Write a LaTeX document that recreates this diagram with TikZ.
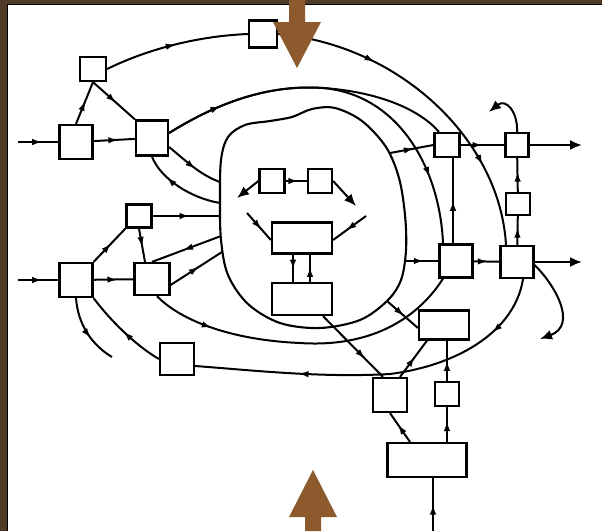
\documentclass[tikz,border=0pt]{standalone}
\usetikzlibrary{arrows.meta,decorations.markings}
\definecolor{framebrown}{RGB}{80,60,38}
\definecolor{arrowbrown}{RGB}{140,90,45}
\tikzset{
  box/.style={draw, line width=2.2pt, fill=white, inner sep=0pt},
  marr/.style={postaction={decorate,decoration={markings,mark=at position #1 with {\arrow{Latex[length=10pt,width=6.5pt]}}}}},
  rarr/.style={postaction={decorate,decoration={markings,mark=at position #1 with {\arrowreversed{Latex[length=10pt,width=6.5pt]}}}}},
  endarr/.style={-{Latex[length=12pt,width=10pt]}},
  conn/.style={line width=2pt},
}
\begin{document}
\begin{tikzpicture}[x=1pt,y=-1pt]
\useasboundingbox (0,0) rectangle (602,531);
\fill[white] (0,0) rectangle (602,531);
% frame
\fill[framebrown] (0,0) rectangle (7,531);
\fill[framebrown] (0,0) rectangle (602,3.5);
\fill[black] (6.5,3.5) rectangle (8,531);
\fill[black] (6.5,3.5) rectangle (602,5);

% blob
\draw[line width=2.1pt] plot[smooth cycle, tension=0.55] coordinates {
 (220,200) (221,160) (228,137) (245,125) (270,121) (292,117) (312,109) (335,108)
 (362,121) (386,147) (399,178) (405,215) (406,250) (401,280) (387,301) (360,320)
 (320,328) (280,323) (248,304) (228,275) (221,240)};

% nodes
\node[box, minimum width=28pt, minimum height=27pt] (T1) at (263,34) {};
\node[box, minimum width=26pt, minimum height=24pt] (A) at (93,69) {};
\node[box, minimum width=33pt, minimum height=34pt] (B) at (76,142) {};
\node[box, minimum width=32pt, minimum height=35pt] (C) at (152,138) {};
\node[box, minimum width=25pt, minimum height=23pt] (D) at (139,216) {};
\node[box, minimum width=33pt, minimum height=34pt] (E) at (76,280) {};
\node[box, minimum width=35pt, minimum height=32pt] (F) at (152,279) {};
\node[box, minimum width=34pt, minimum height=32pt] (G) at (177,359) {};
\node[box, minimum width=25pt, minimum height=24pt] (I1) at (272,181) {};
\node[box, minimum width=24pt, minimum height=24pt] (I2) at (320,181) {};
\node[box, minimum width=60pt, minimum height=31pt] (I3) at (302,238) {};
\node[box, minimum width=60pt, minimum height=32pt] (I4) at (302,299) {};
\node[box, minimum width=25pt, minimum height=24pt] (R1) at (447,145) {};
\node[box, minimum width=23pt, minimum height=24pt] (R2) at (517,145) {};
\node[box, minimum width=24pt, minimum height=22pt] (R3) at (518,204) {};
\node[box, minimum width=33pt, minimum height=33pt] (R4) at (456,261) {};
\node[box, minimum width=33pt, minimum height=32pt] (R5) at (517,262) {};
\node[box, minimum width=50pt, minimum height=29pt] (R6) at (444,325) {};
\node[box, minimum width=34pt, minimum height=34pt] (R7) at (390,395) {};
\node[box, minimum width=24pt, minimum height=24pt] (R8) at (447,394) {};
\node[box, minimum width=79pt, minimum height=34pt] (R9) at (427,460) {};

% free ends and blob points
\coordinate (inB) at (18,142);
\coordinate (inE) at (18,280);
\coordinate (iR9) at (433,531);
\coordinate (oR2) at (582,145);
\coordinate (oR5) at (582,262);
\coordinate (sR2) at (489,112);
\coordinate (sR5) at (540,339);
\coordinate (eS) at (112,357);
\coordinate (bC1) at (220,182);
\coordinate (bC2) at (220,203);
\coordinate (bD) at (220,216);
\coordinate (bF1) at (221,236);
\coordinate (bF2) at (222,252);
\coordinate (bR1) at (390,153);
\coordinate (bR4) at (406,261);
\coordinate (bR6) at (387,301);
\coordinate (sI1) at (237,198);
\coordinate (sI2) at (356,206);
\coordinate (sI3a) at (247,213);
\coordinate (sI3b) at (366,216);

\begin{scope}[conn]
% left part
\draw[marr=0.6] (inB) -- (B);
\draw[marr=0.6] (B) -- (C);
\draw[marr=0.55] (B.north) -- (A.south);
\draw[marr=0.55] (A.south) -- (C.north west);
\draw[marr=0.5] (A.east) .. controls (150,48) and (200,36) .. (T1.west);
\draw[marr=0.3, marr=0.75] (T1.east) .. controls (400,45) and (500,140) .. ([xshift=-11pt]R5.north);
\draw[marr=0.2] ([yshift=5pt]C.east) .. controls (230,95) and (280,85) .. (323,88)
   .. controls (380,92) and (420,110) .. ([xshift=-8pt]R1.north);
\draw[marr=0.82] ([yshift=5pt]C.east) .. controls (230,95) and (280,85) .. (323,88)
   .. controls (400,95) and (440,170) .. ([xshift=-13pt]R4.north);
\draw[marr=0.55] ([yshift=-9pt]C.east) .. controls (185,160) and (200,175) .. (bC1);
\draw[rarr=0.3] (C.south) .. controls (160,178) and (190,198) .. (bC2);
\draw[marr=0.55] (D.east) -- (bD);
\draw[marr=0.6] (inE) -- (E);
\draw[marr=0.6] (E) -- (F);
\draw[marr=0.55] (E.north east) -- (D.south west);
\draw[marr=0.55] (D.south) -- ([xshift=-7pt]F.north);
\draw[rarr=0.45] (F.north) -- (bF1);
\draw[marr=0.55] ([yshift=-6pt]F.east) -- (bF2);
\draw[marr=0.2] ([xshift=5pt]F.south) .. controls (180,320) and (230,340) .. (300,343)
   .. controls (375,348) and (420,315) .. ([xshift=-13pt]R4.south);
\draw[marr=0.17, marr=0.72] ([xshift=6pt]R5.south) .. controls (515,330) and (460,365) .. (390,374)
   .. controls (320,378) and (250,370) .. ([yshift=-7pt]G.east);
\draw[marr=0.5] (G.west) .. controls (135,345) and (110,320) .. (E.south east);
\draw[marr=0.6] (E.south) .. controls (78,325) and (92,345) .. (eS);
% right part
\draw[marr=0.55] (bR1) -- (R1.west);
\draw[marr=0.5] (R1) -- (R2);
\draw[endarr] (R2.east) -- (oR2);
\draw[endarr] (R2.north) .. controls (518,112) and (506,98) .. (sR2);
\draw[marr=0.6] (R3) -- (R2);
\draw[marr=0.6] (R5) -- (R3);
\draw[marr=0.5] ([xshift=-3pt]R4.north) -- ([xshift=6pt]R1.south);
\draw[marr=0.55] (bR4) -- (R4.west);
\draw[marr=0.55] (R4) -- (R5);
\draw[endarr] (R5.east) -- (oR5);
\draw[endarr] ([yshift=-3pt]R5.east) .. controls (555,285) and (578,325) .. (sR5);
\draw[marr=0.55] (bR6) -- ([yshift=-3pt]R6.west);
\draw[marr=0.7] ([xshift=21pt]I4.south) -- ([xshift=-7pt]R7.north);
\draw[marr=0.55] ([xshift=10pt]R7.north) -- ([xshift=-17pt]R6.south);
\draw[marr=0.5] (R8.north) -- ([xshift=3pt]R6.south);
\draw[marr=0.6] ([xshift=20pt]R9.north) -- (R8.south);
\draw[marr=0.6] ([xshift=-17pt]R9.north) -- (R7.south);
\draw[marr=0.5] (iR9) -- ([xshift=6pt]R9.south);
% inner
\draw[marr=0.6] (I1) -- (I2);
\draw[endarr] (I1.west) -- (sI1);
\draw[endarr] (I2.east) -- (sI2);
\draw[marr=0.6] (sI3a) -- ([yshift=-2pt]I3.west);
\draw[marr=0.6] (sI3b) -- ([yshift=-2pt]I3.east);
\draw[marr=0.55] ([xshift=-9pt]I3.south) -- ([xshift=-9pt]I4.north);
\draw[marr=0.55] ([xshift=8pt]I4.north) -- ([xshift=8pt]I3.south);
\end{scope}

% brown arrows
\fill[arrowbrown] (289,0) -- (305,0) -- (305,22) -- (321,22) -- (297,68) -- (273,22) -- (289,22) -- cycle;
\fill[arrowbrown] (313,470) -- (337,517) -- (321,517) -- (321,531) -- (305,531) -- (305,517) -- (289,517) -- cycle;
\end{tikzpicture}
\end{document}
